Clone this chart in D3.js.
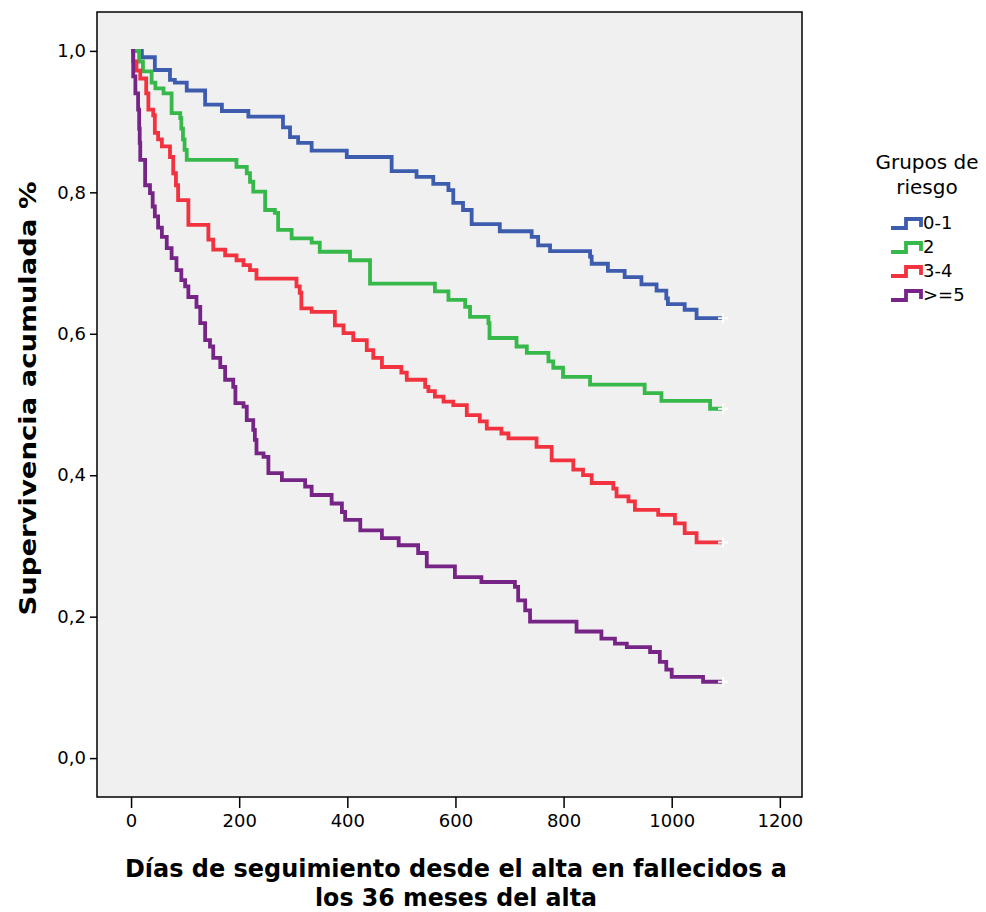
<!DOCTYPE html>
<html lang="es">
<head>
<meta charset="UTF-8">
<title>Supervivencia por grupos de riesgo</title>
<script src="https://cdn.jsdelivr.net/npm/d3@7"></script>
<style>
  body { margin: 0; background: #fff; }
  text { font-family: "DejaVu Sans", sans-serif; }
</style>
</head>
<body>
<div id="chart"></div>
<script>
// group names and colours
var groups = ["0-1", "2", "3-4", ">=5"];
var colors = ["#3d5cad", "#36b84a", "#f2333f", "#762586"];

// days / cumulative survival
var t01 = [0,20,44,72,81,103,137,168,217,281,294,309,334,399,482,528,559,587,596,614,630,682,741,753,775,849,852,882,913,944,972,990,993,1024,1046,1095];
var s01 = [1,0.991,0.973,0.959,0.955,0.944,0.924,0.915,0.907,0.892,0.878,0.870,0.859,0.850,0.830,0.822,0.812,0.803,0.785,0.775,0.755,0.745,0.737,0.725,0.717,0.709,0.699,0.689,0.680,0.670,0.661,0.650,0.642,0.634,0.622,0.622];

var t2 = [0,15,22,38,45,60,75,91,93,96,99,103,195,214,220,226,248,266,272,297,334,349,405,442,562,587,618,627,661,663,713,732,772,781,799,849,950,981,1071,1095];
var s2 = [1,0.985,0.971,0.955,0.947,0.94,0.912,0.905,0.89,0.875,0.86,0.846,0.836,0.827,0.815,0.801,0.775,0.771,0.747,0.735,0.729,0.716,0.704,0.671,0.660,0.648,0.638,0.624,0.615,0.594,0.582,0.573,0.561,0.552,0.539,0.528,0.516,0.505,0.494,0.494];

var t34 = [0,4,10,17,28,32,41,44,50,57,72,78,83,87,106,143,152,174,195,208,220,232,306,312,315,334,377,393,411,436,448,464,500,510,544,550,562,578,596,621,645,658,685,698,750,778,818,836,852,892,898,920,932,975,1006,1024,1046,1095];
var s34 = [1,0.985,0.972,0.961,0.94,0.917,0.909,0.884,0.875,0.865,0.850,0.827,0.81,0.789,0.754,0.733,0.719,0.711,0.704,0.697,0.690,0.678,0.667,0.658,0.636,0.631,0.612,0.601,0.591,0.577,0.566,0.553,0.545,0.535,0.525,0.519,0.511,0.504,0.499,0.485,0.476,0.466,0.459,0.452,0.440,0.421,0.408,0.400,0.389,0.381,0.370,0.363,0.351,0.344,0.332,0.318,0.305,0.305];

var t5 = [0,4,8,13,15,16,17,26,35,40,44,50,57,66,75,84,93,100,106,121,128,137,146,152,165,174,189,193,208,214,226,229,232,245,254,279,322,334,371,390,396,424,464,495,531,547,599,648,710,716,729,738,824,870,895,917,960,978,990,1000,1058,1095];
var s5 = [1,0.964,0.94,0.917,0.89,0.87,0.846,0.810,0.799,0.78,0.766,0.75,0.737,0.721,0.707,0.690,0.676,0.667,0.652,0.638,0.615,0.591,0.582,0.566,0.553,0.535,0.525,0.502,0.497,0.478,0.464,0.45,0.431,0.426,0.403,0.393,0.384,0.372,0.360,0.348,0.337,0.322,0.311,0.301,0.290,0.271,0.256,0.249,0.242,0.223,0.209,0.193,0.179,0.169,0.162,0.157,0.150,0.136,0.125,0.115,0.108,0.108];

var xTicks = [0, 200, 400, 600, 800, 1000, 1200];
var yTicks = [0, 0.2, 0.4, 0.6, 0.8, 1.0];

var times = [t01, t2, t34, t5];
var survs = [s01, s2, s34, s5];

var W = 986, H = 912;
var pL = 97, pR = 802, pT = 12, pB = 797;

var svg = d3.select("#chart").append("svg")
    .attr("width", W)
    .attr("height", H);

var x = d3.scaleLinear().domain([-63, 1241]).range([pL, pR]);
var y = d3.scaleLinear().domain([-0.055, 1.055]).range([pB, pT]);

svg.append("rect")
    .attr("x", pL).attr("y", pT)
    .attr("width", pR - pL).attr("height", pB - pT)
    .attr("fill", "#f0f0f0");

// axes
var xAxis = svg.append("g")
    .attr("transform", "translate(0," + pB + ")")
    .call(d3.axisBottom(x).tickValues(xTicks).tickSize(11).tickPadding(6).tickFormat(d3.format("d")));
var yAxis = svg.append("g")
    .attr("transform", "translate(" + pL + ",0)")
    .call(d3.axisLeft(y).tickValues(yTicks).tickSize(7).tickPadding(4)
        .tickFormat(function (d) { return d3.format(".1f")(d).replace(".", ","); }));

[xAxis, yAxis].forEach(function (a) {
    a.select(".domain").remove();
    a.selectAll("line").attr("stroke", "#000").attr("stroke-width", 1.5);
    a.selectAll("text").attr("fill", "#000").style("font-size", "18px");
});

var line = d3.line()
    .x(function (d) { return x(d[0]); })
    .y(function (d) { return y(d[1]); })
    .curve(d3.curveStepAfter);

var curves = svg.append("g");
groups.forEach(function (g, i) {
    var pts = times[i].map(function (t, j) { return [t, survs[i][j]]; });
    curves.append("path")
        .datum(pts)
        .attr("d", line)
        .attr("fill", "none")
        .attr("stroke", colors[i])
        .attr("stroke-width", 3.8);
    // censoring mark at the end
    var last = pts[pts.length - 1];
    var cx = x(last[0]), cy = y(last[1]);
    curves.append("path")
        .attr("d", "M" + (cx - 5) + "," + cy + "H" + (cx + 5) + "M" + cx + "," + (cy - 5) + "V" + (cy + 5))
        .attr("stroke", "#fff")
        .attr("stroke-width", 2);
});

// frame
svg.append("rect")
    .attr("x", pL).attr("y", pT)
    .attr("width", pR - pL).attr("height", pB - pT)
    .attr("fill", "none")
    .attr("stroke", "#000")
    .attr("stroke-width", 1.5);

// titles
svg.append("text")
    .attr("transform", "translate(29," + ((pT + pB) / 2 - 6) + ") rotate(-90)")
    .attr("text-anchor", "middle")
    .attr("dominant-baseline", "middle")
    .attr("textLength", 434)
    .attr("lengthAdjust", "spacingAndGlyphs")
    .style("font-size", "23px")
    .style("font-weight", "bold")
    .text("Supervivencia acumulada %");

svg.append("text")
    .attr("x", 456).attr("y", 877)
    .attr("text-anchor", "middle")
    .attr("textLength", 662)
    .attr("lengthAdjust", "spacingAndGlyphs")
    .style("font-size", "25px")
    .style("font-weight", "bold")
    .text("Días de seguimiento desde el alta en fallecidos a");
svg.append("text")
    .attr("x", 456).attr("y", 906)
    .attr("text-anchor", "middle")
    .attr("textLength", 282)
    .attr("lengthAdjust", "spacingAndGlyphs")
    .style("font-size", "25px")
    .style("font-weight", "bold")
    .text("los 36 meses del alta");

// legend
var lg = svg.append("g");
lg.append("text").attr("x", 927).attr("y", 169).attr("text-anchor", "middle")
    .style("font-size", "20px").text("Grupos de");
lg.append("text").attr("x", 927).attr("y", 194).attr("text-anchor", "middle")
    .style("font-size", "20px").text("riesgo");

groups.forEach(function (g, i) {
    var cy = 224 + i * 24;
    lg.append("path")
        .attr("d", "M891," + (cy + 4) + "H906V" + (cy - 5) + "H921V" + (cy + 3))
        .attr("fill", "none")
        .attr("stroke", colors[i])
        .attr("stroke-width", 3.8);
    lg.append("text")
        .attr("x", 923).attr("y", cy)
        .attr("dominant-baseline", "middle")
        .style("font-size", "18px")
        .text(g);
});
</script>
</body>
</html>
